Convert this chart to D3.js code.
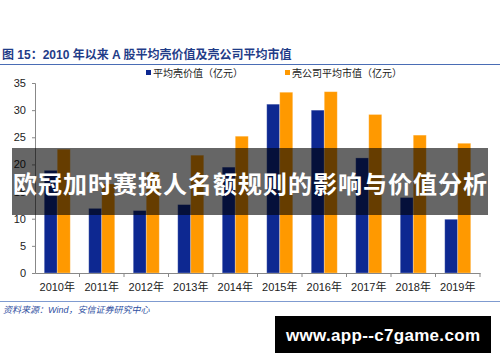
<!DOCTYPE html>
<meta charset="utf-8">
<script src="https://d3js.org/d3.v7.min.js"></script>
<style>
  body { margin: 0; background: #fff; }
  text { font-family: "Liberation Sans", "Noto Sans CJK SC", sans-serif; }
</style>
<div id="chart"></div>
<script>

// data
var years = ["2010年", "2011年", "2012年", "2013年", "2014年", "2015年", "2016年", "2017年", "2018年", "2019年"];
var shellValue = [18.9, 11.9, 11.5, 12.6, 19.5, 31.1, 30.0, 21.2, 13.9, 9.9];
var shellCapAvg = [22.8, 16.4, 18.6, 21.7, 25.2, 33.3, 33.4, 29.2, 25.4, 23.9];
var seriesNames = ["平均壳价值（亿元）", "壳公司平均市值（亿元）"];
var yTicks = [0, 5, 10, 15, 20, 25, 30, 35];

var W = 500, H = 362;
var colors = ["#0D2891", "#FF9900"];

var svg = d3.select("#chart").append("svg")
    .attr("width", W)
    .attr("height", H);

// title + rule
svg.append("text")
    .attr("x", 2)
    .attr("y", 59)
    .attr("font-family", "'Noto Sans CJK SC', sans-serif")
    .attr("font-weight", "bold")
    .attr("font-size", 12)
    .attr("fill", "#1F3C88")
    .text("图 15：2010 年以来 A 股平均壳价值及壳公司平均市值");

svg.append("line")
    .attr("x1", 0).attr("x2", W)
    .attr("y1", 64.5).attr("y2", 64.5)
    .attr("stroke", "#4A6DB5")
    .attr("stroke-width", 1);

// scales
var x = d3.scaleBand().domain(years).range([35, 480]);
var x1 = d3.scaleBand().domain([0, 1]).range([0, x.bandwidth()]).paddingOuter(0.71);
var y = d3.scaleLinear().domain([0, 35]).range([273, 83]);

// bars
var groups = svg.selectAll(".yr")
    .data(years)
    .enter().append("g")
    .attr("transform", function(d) { return "translate(" + x(d) + ",0)"; });

groups.selectAll("rect")
    .data(function(d, i) { return [shellValue[i], shellCapAvg[i]]; })
    .enter().append("rect")
    .attr("x", function(d, j) { return x1(j); })
    .attr("width", x1.bandwidth())
    .attr("y", function(d) { return y(d); })
    .attr("height", function(d) { return y(0) - y(d); })
    .attr("fill", function(d, j) { return colors[j]; })
    .attr("stroke", "#fff")
    .attr("stroke-opacity", 0.35)
    .attr("stroke-width", 0.8);

// y axis
var yAxis = svg.append("g")
    .attr("transform", "translate(35,0)")
    .call(d3.axisLeft(y).tickValues(yTicks).tickSize(3).tickPadding(6));
yAxis.select(".domain").attr("stroke", "#888");
yAxis.selectAll(".tick line").attr("stroke", "#888");
yAxis.selectAll(".tick text")
    .attr("font-size", 11)
    .attr("fill", "#222");

// x axis
var xAxis = svg.append("g")
    .attr("transform", "translate(0,273)")
    .call(d3.axisBottom(x).tickSize(0).tickPadding(10).tickSizeOuter(0));
xAxis.select(".domain").attr("stroke", "#888");
xAxis.selectAll(".tick text")
    .attr("font-size", 11)
    .attr("fill", "#222");
// tick marks between categories
svg.selectAll(".sep")
    .data(years)
    .enter().append("line")
    .attr("x1", function(d) { return x(d) + x.bandwidth(); })
    .attr("x2", function(d) { return x(d) + x.bandwidth(); })
    .attr("y1", 273).attr("y2", 277)
    .attr("stroke", "#888");

// legend
var legX = [146, 285];
var leg = svg.selectAll(".leg")
    .data(seriesNames)
    .enter().append("g")
    .attr("transform", function(d, i) { return "translate(" + legX[i] + ",73)"; });
leg.append("rect")
    .attr("x", 0).attr("y", -3)
    .attr("width", 5).attr("height", 5)
    .attr("fill", function(d, i) { return colors[i]; });
leg.append("text")
    .attr("x", 7)
    .attr("y", 4)
    .attr("font-size", 10)
    .attr("fill", "#222")
    .text(function(d) { return d; });

// footer
svg.append("line")
    .attr("x1", 0).attr("x2", W)
    .attr("y1", 301.5).attr("y2", 301.5)
    .attr("stroke", "#7F9BD0")
    .attr("stroke-width", 1);

svg.append("text")
    .attr("x", 3)
    .attr("y", 313)
    .attr("font-size", 9)
    .attr("font-style", "italic")
    .attr("fill", "#2F4F9F")
    .text("资料来源：Wind，安信证券研究中心");

// overlay banner
svg.append("rect")
    .attr("x", 12).attr("y", 148)
    .attr("width", 476).attr("height", 67)
    .attr("fill", "#000")
    .attr("fill-opacity", 0.6);

svg.append("text")
    .attr("x", 250)
    .attr("y", 193)
    .attr("text-anchor", "middle")
    .attr("font-family", "'Noto Sans CJK SC', sans-serif")
    .attr("font-weight", "bold")
    .attr("font-size", 24)
    .attr("textLength", 474)
    .attr("fill", "#fff")
    .text("欧冠加时赛换人名额规则的影响与价值分析");

// watermark
svg.append("rect")
    .attr("x", 275).attr("y", 316)
    .attr("width", 216).attr("height", 37)
    .attr("fill", "#000");

svg.append("text")
    .attr("x", 383)
    .attr("y", 341)
    .attr("text-anchor", "middle")
    .attr("font-family", "'DejaVu Sans', sans-serif")
    .attr("font-weight", "bold")
    .attr("font-size", 17)
    .attr("textLength", 194)
    .attr("fill", "#fff")
    .text("www.app--c7game.com");

</script>
